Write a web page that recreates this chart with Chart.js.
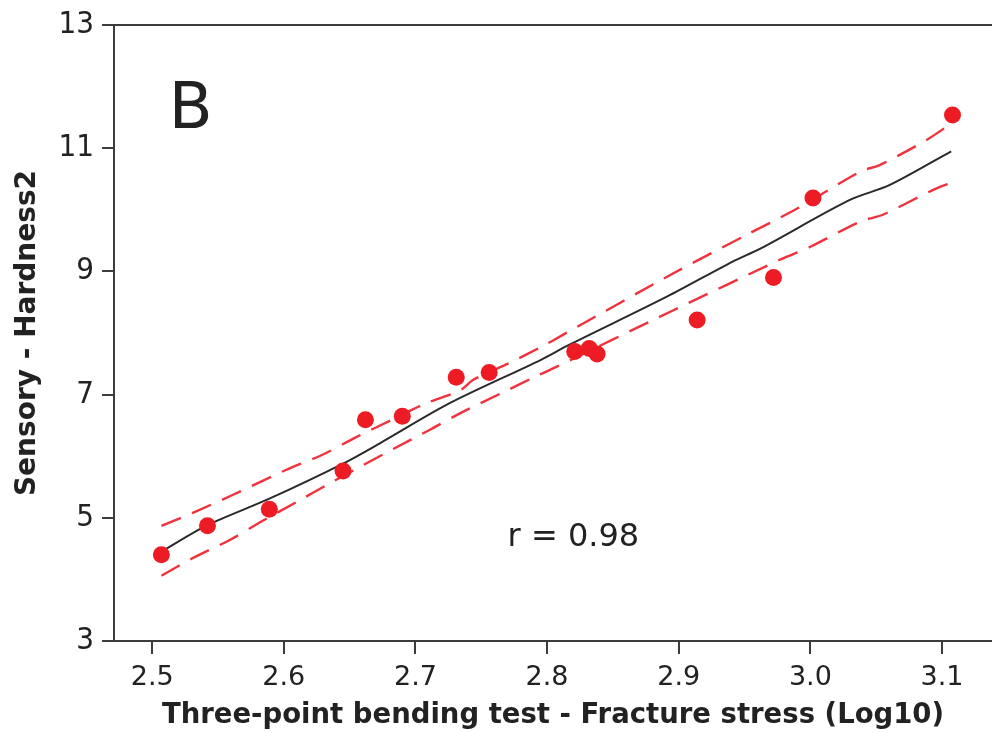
<!DOCTYPE html>
<html>
<head>
<meta charset="utf-8">
<title>Sensory hardness vs. fracture stress</title>
<script src="https://cdn.jsdelivr.net/npm/chart.js@4/dist/chart.umd.min.js"></script>
<style>
  html, body { margin: 0; padding: 0; background: #ffffff; }
  #wrap { width: 992px; height: 733px; }
</style>
</head>
<body>
<div id="wrap"><canvas id="chart" width="992" height="733"></canvas></div>
<script>
// Measured samples: log10 fracture stress (three-point bending) vs. sensory hardness
const stressLog = [2.507, 2.542, 2.589, 2.645, 2.662, 2.690, 2.731, 2.756, 2.821, 2.832, 2.838, 2.914, 2.972, 3.002, 3.108];
const hardness  = [4.40, 4.87, 5.14, 5.76, 6.59, 6.65, 7.28, 7.36, 7.70, 7.75, 7.66, 8.21, 8.90, 10.19, 11.54];

// Fitted curve
const fitX = [2.507, 2.542, 2.589, 2.645, 2.673, 2.726, 2.795, 2.817, 2.891, 2.941, 2.962, 3.030, 3.060, 3.107];
const fitY = [4.45, 4.88, 5.31, 5.88, 6.21, 6.86, 7.56, 7.81, 8.59, 9.16, 9.37, 10.16, 10.40, 10.95];

// Upper confidence limit
const upperX = [2.507, 2.533, 2.561, 2.602, 2.629, 2.655, 2.681, 2.707, 2.734, 2.744, 2.771, 2.797, 2.812, 2.896, 2.954, 2.990, 3.038, 3.053, 3.088, 3.107];
const upperY = [4.87, 5.10, 5.37, 5.78, 6.02, 6.31, 6.58, 6.85, 7.07, 7.24, 7.51, 7.79, 7.97, 8.97, 9.62, 10.02, 10.62, 10.73, 11.13, 11.40];

// Lower confidence limit
const lowerX = [2.507, 2.533, 2.559, 2.583, 2.610, 2.635, 2.659, 2.686, 2.711, 2.736, 2.764, 2.790, 2.805, 2.896, 2.977, 3.000, 3.038, 3.055, 3.093, 3.107];
const lowerY = [4.06, 4.37, 4.64, 4.94, 5.26, 5.56, 5.84, 6.15, 6.43, 6.72, 7.01, 7.28, 7.43, 8.37, 9.19, 9.40, 9.81, 9.92, 10.32, 10.44];

// Axis ticks
const xTicks = [2.5, 2.6, 2.7, 2.8, 2.9, 3.0, 3.1];
const yTicks = [3, 5, 7, 9, 11, 13];

const panelLabel = 'B';
const corrLabel = 'r = 0.98';

const pairs = (xs, ys) => xs.map((x, i) => ({ x: x, y: ys[i] }));

const RED = '#ed1c24';
const DASH_RED = '#f0323c';
const INK = '#222222';
const AXIS = '#3c3c3c';
const FONT = "'DejaVu Sans', Verdana, sans-serif";
const FONT_NARROW = "'DejaVu Sans Condensed', 'DejaVu Sans', sans-serif";

// Top frame line plus the two in-plot text labels
const decorations = {
  id: 'decorations',
  afterDraw(chart) {
    const { ctx, chartArea, scales } = chart;
    ctx.save();
    ctx.strokeStyle = AXIS;
    ctx.lineWidth = 2;
    ctx.beginPath();
    ctx.moveTo(chartArea.left - 12, chartArea.top);
    ctx.lineTo(chart.width, chartArea.top);
    ctx.stroke();

    ctx.fillStyle = INK;
    ctx.textBaseline = 'alphabetic';
    ctx.textAlign = 'left';
    ctx.font = '64px ' + FONT;
    ctx.fillText(panelLabel, scales.x.getPixelForValue(2.5125), scales.y.getPixelForValue(11.33));

    ctx.font = '32px ' + FONT;
    ctx.textBaseline = 'middle';
    ctx.fillText(corrLabel, scales.x.getPixelForValue(2.770), scales.y.getPixelForValue(4.67));
    ctx.restore();
  }
};

new Chart(document.getElementById('chart'), {
  type: 'scatter',
  data: {
    datasets: [
      {
        label: 'Upper limit',
        data: pairs(upperX, upperY),
        showLine: true,
        borderColor: DASH_RED,
        borderWidth: 2.4,
        borderDash: [21, 12],
        pointRadius: 0,
        tension: 0.3,
        order: 3
      },
      {
        label: 'Lower limit',
        data: pairs(lowerX, lowerY),
        showLine: true,
        borderColor: DASH_RED,
        borderWidth: 2.4,
        borderDash: [21, 12],
        pointRadius: 0,
        tension: 0.3,
        order: 3
      },
      {
        label: 'Fit',
        data: pairs(fitX, fitY),
        showLine: true,
        borderColor: '#2a2a2a',
        borderWidth: 2,
        pointRadius: 0,
        tension: 0.3,
        order: 2
      },
      {
        label: 'Samples',
        data: pairs(stressLog, hardness),
        backgroundColor: RED,
        borderColor: RED,
        borderWidth: 0,
        pointRadius: 8.5,
        order: 1
      }
    ]
  },
  options: {
    responsive: false,
    animation: false,
    events: [],
    layout: { autoPadding: false, padding: { top: 25, right: 0, left: 0, bottom: 0 } },
    plugins: {
      legend: { display: false },
      tooltip: { enabled: false }
    },
    scales: {
      x: {
        type: 'linear',
        min: 2.471,
        max: 3.138,
        afterFit(scale) {
          scale.height = 92;
          scale.paddingLeft = 0;
          scale.paddingRight = 0;
        },
        afterBuildTicks(scale) { scale.ticks = xTicks.map(v => ({ value: v })); },
        ticks: {
          color: INK,
          font: { family: FONT, size: 27 },
          padding: 8,
          maxRotation: 0,
          callback: v => v.toFixed(1)
        },
        grid: {
          display: true,
          drawOnChartArea: false,
          drawTicks: true,
          tickLength: 13,
          color: AXIS,
          lineWidth: 2
        },
        border: { display: true, color: AXIS, width: 2 },
        title: {
          display: true,
          text: 'Three-point bending test - Fracture stress (Log10)',
          color: INK,
          font: { family: FONT, size: 27.5, weight: 'bold' },
          padding: { top: 0, bottom: 1 }
        }
      },
      y: {
        type: 'linear',
        min: 3,
        max: 13,
        afterFit(scale) {
          scale.width = 114;
          scale.paddingTop = 0;
          scale.paddingBottom = 0;
        },
        afterBuildTicks(scale) { scale.ticks = yTicks.map(v => ({ value: v })); },
        ticks: {
          color: INK,
          font: { family: FONT_NARROW, size: 31 },
          padding: 8
        },
        grid: {
          display: true,
          drawOnChartArea: false,
          drawTicks: true,
          tickLength: 12,
          color: AXIS,
          lineWidth: 2
        },
        border: { display: true, color: AXIS, width: 2 },
        title: {
          display: true,
          text: 'Sensory - Hardness2',
          color: INK,
          font: { family: FONT, size: 28, weight: 'bold' },
          padding: { top: 11, bottom: 0 }
        }
      }
    }
  },
  plugins: [decorations]
});
</script>
</body>
</html>
